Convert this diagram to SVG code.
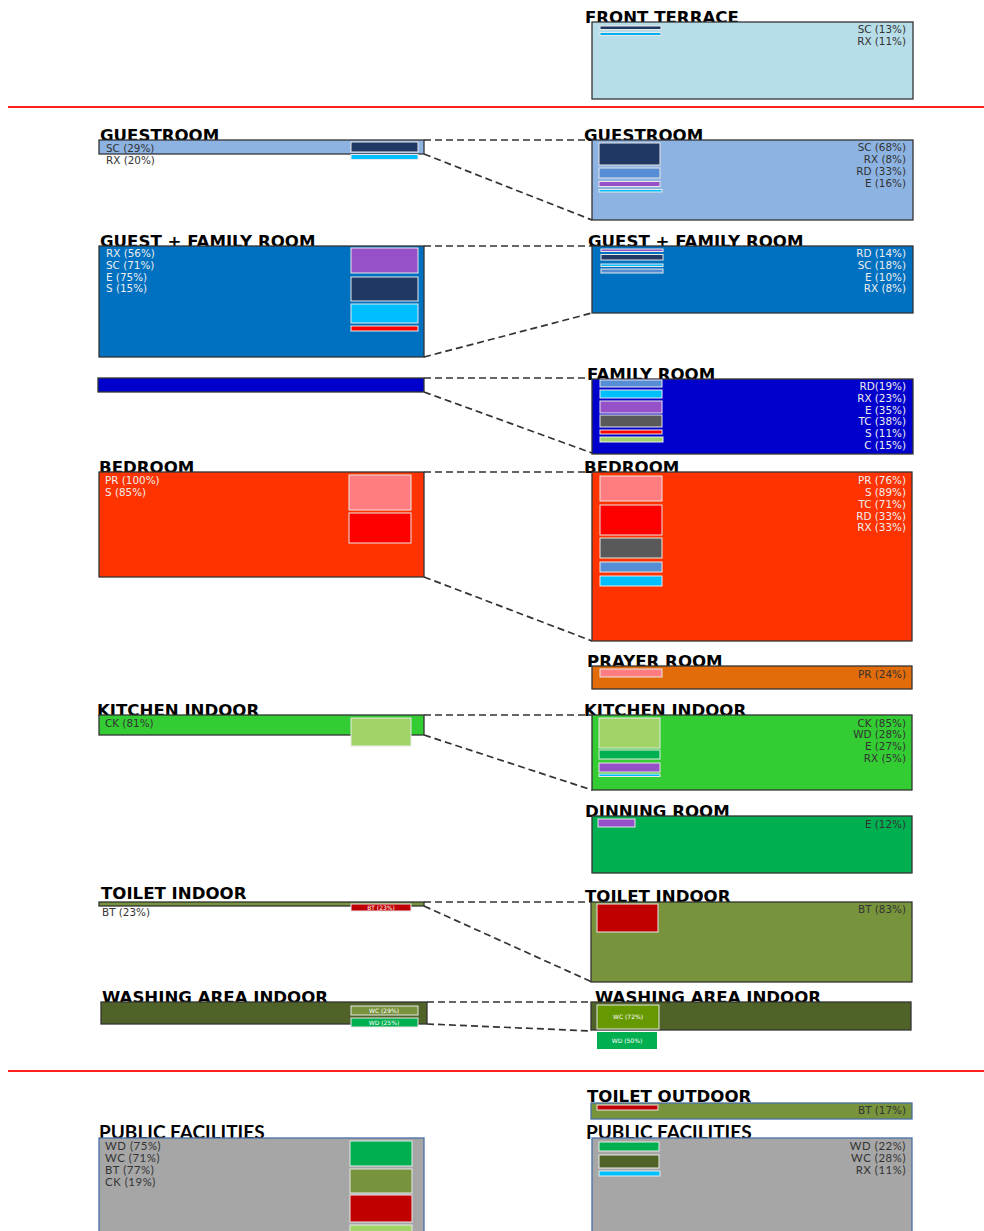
<svg xmlns="http://www.w3.org/2000/svg" width="984" height="1231" viewBox="0 0 984 1231">
<style>
.t{font-family:"DejaVu Sans",sans-serif;font-weight:bold;font-size:16.6px;fill:#000}
.tc{font-family:Lato,"Liberation Sans",sans-serif;font-weight:bold;font-size:19px;fill:#000}
.l{font-family:"DejaVu Sans",sans-serif;font-size:10.4px;fill:#333}
.lc{font-family:Lato,"Liberation Sans",sans-serif;font-size:11.3px;letter-spacing:0.6px;fill:#333}
.w{fill:#eee}
.r{text-anchor:end}
.tiny{font-family:"DejaVu Sans",sans-serif;font-size:6px;fill:#fff;text-anchor:middle}
.box{stroke:#333;stroke-width:1.3}
.bb{stroke:#4a6fa5;stroke-width:1.3}
.bar{stroke:#e8e8e8;stroke-width:1}
.sep{stroke:#ff2020;stroke-width:2}
.con{fill:none;stroke:#333;stroke-width:1.7;stroke-dasharray:7 4}
</style>
<line class="sep" x1="8" y1="107" x2="984" y2="107"/>
<line class="sep" x1="8" y1="1071" x2="984" y2="1071"/>
<g id="connectors">
<path class="con" d="M424 140H592M424 154L592 220"/>
<path class="con" d="M424 246H592M424 357L592 313"/>
<path class="con" d="M424 378H592M424 392L592 453"/>
<path class="con" d="M424 472H592M424 577L592 641"/>
<path class="con" d="M424 715H592M424 735L592 790"/>
<path class="con" d="M424 902H592M424 906L592 982"/>
<path class="con" d="M427 1002H592M427 1024L592 1031"/>
</g>
<g id="front-terrace">
<text class="t" x="585" y="23">FRONT TERRACE</text>
<rect class="box" x="592" y="22" width="321" height="77" fill="#b7dde8"/>
<rect class="bar" x="600" y="26" width="61" height="3.5" fill="#1f3864"/>
<rect class="bar" x="600" y="32.5" width="61" height="3" fill="#00b0f0"/>
<text class="l r" x="906" y="33">SC (13%)</text>
<text class="l r" x="906" y="45">RX (11%)</text>
</g>
<g id="guestroom-left">
<text class="t" x="100" y="141">GUESTROOM</text>
<rect class="box" x="99" y="140" width="325" height="14" fill="#8db3e2"/>
<rect class="bar" x="351" y="142" width="67" height="10" fill="#1f3864"/>
<rect class="bar" x="351" y="154.5" width="67" height="5" fill="#00bfff"/>
<text class="l" x="106" y="152">SC (29%)</text>
<text class="l" x="106" y="164">RX (20%)</text>
</g>
<g id="guestroom-right">
<text class="t" x="584" y="141">GUESTROOM</text>
<rect class="box" x="592" y="140" width="321" height="80" fill="#8db3e2"/>
<rect class="bar" x="599" y="143" width="61" height="22" fill="#1f3864"/>
<rect class="bar" x="599" y="168" width="61" height="10" fill="#558ed5"/>
<rect class="bar" x="599" y="181.5" width="61" height="5" fill="#9650c8"/>
<rect class="bar" x="599" y="189.5" width="63" height="2.5" fill="#00bfff"/>
<text class="l r" x="906" y="151">SC (68%)</text>
<text class="l r" x="906" y="163">RX (8%)</text>
<text class="l r" x="906" y="175">RD (33%)</text>
<text class="l r" x="906" y="187">E (16%)</text>
</g>
<g id="guest-family-left">
<text class="t" x="100" y="247">GUEST + FAMILY ROOM</text>
<rect class="box" x="99" y="246" width="325" height="111" fill="#0070c0"/>
<rect class="bar" x="351" y="248" width="67" height="25" fill="#9650c8"/>
<rect class="bar" x="351" y="277" width="67" height="24" fill="#1f3864"/>
<rect class="bar" x="351" y="304" width="67" height="19" fill="#00bfff"/>
<rect class="bar" x="351" y="326" width="67" height="5" fill="#ff0000"/>
<text class="l w" x="106" y="257">RX (56%)</text>
<text class="l w" x="106" y="269">SC (71%)</text>
<text class="l w" x="106" y="281">E (75%)</text>
<text class="l w" x="106" y="292">S (15%)</text>
</g>
<g id="guest-family-right">
<text class="t" x="588" y="247">GUEST + FAMILY ROOM</text>
<rect class="box" x="592" y="246" width="321" height="67" fill="#0070c0"/>
<rect class="bar" x="601" y="249" width="62" height="2.5" fill="#9650c8"/>
<rect class="bar" x="601" y="254.5" width="62" height="5.5" fill="#1f3864"/>
<rect class="bar" x="601" y="264" width="62" height="2.5" fill="#00bfff"/>
<rect class="bar" x="601" y="269" width="62" height="4" fill="#558ed5"/>
<text class="l w r" x="906" y="257">RD (14%)</text>
<text class="l w r" x="906" y="269">SC (18%)</text>
<text class="l w r" x="906" y="281">E (10%)</text>
<text class="l w r" x="906" y="292">RX (8%)</text>
</g>
<g id="family-left">
<rect class="box" x="98" y="378" width="326" height="14" fill="#0000cc"/>
</g>
<g id="family-right">
<text class="t" x="587" y="380">FAMILY ROOM</text>
<rect class="box" x="592" y="379" width="321" height="75" fill="#0000cc"/>
<rect class="bar" x="600" y="380" width="62" height="7" fill="#558ed5"/>
<rect class="bar" x="600" y="390" width="62" height="8" fill="#00bfff"/>
<rect class="bar" x="600" y="401" width="62" height="12" fill="#9650c8"/>
<rect class="bar" x="600" y="415" width="62" height="12" fill="#595959"/>
<rect class="bar" x="600" y="430" width="62" height="4" fill="#ff0000"/>
<rect class="bar" x="600" y="437" width="63" height="5" fill="#a0d468"/>
<text class="l w r" x="906" y="390">RD(19%)</text>
<text class="l w r" x="906" y="402">RX (23%)</text>
<text class="l w r" x="906" y="414">E (35%)</text>
<text class="l w r" x="906" y="425">TC (38%)</text>
<text class="l w r" x="906" y="437">S (11%)</text>
<text class="l w r" x="906" y="449">C (15%)</text>
</g>
<g id="bedroom-left">
<text class="t" x="99" y="473">BEDROOM</text>
<rect class="box" x="99" y="472" width="325" height="105" fill="#ff3300"/>
<rect class="bar" x="349" y="475" width="62" height="35" fill="#ff7c80"/>
<rect class="bar" x="349" y="513" width="62" height="30" fill="#ff0000"/>
<text class="l w" x="105" y="484">PR (100%)</text>
<text class="l w" x="105" y="496">S (85%)</text>
</g>
<g id="bedroom-right">
<text class="t" x="584" y="473">BEDROOM</text>
<rect class="box" x="592" y="472" width="320" height="169" fill="#ff3300"/>
<rect class="bar" x="600" y="476" width="62" height="25" fill="#ff7c80"/>
<rect class="bar" x="600" y="505" width="62" height="30" fill="#ff0000"/>
<rect class="bar" x="600" y="538" width="62" height="20" fill="#595959"/>
<rect class="bar" x="600" y="562" width="62" height="10" fill="#558ed5"/>
<rect class="bar" x="600" y="576" width="62" height="10" fill="#00bfff"/>
<text class="l w r" x="906" y="484">PR (76%)</text>
<text class="l w r" x="906" y="496">S (89%)</text>
<text class="l w r" x="906" y="508">TC (71%)</text>
<text class="l w r" x="906" y="520">RD (33%)</text>
<text class="l w r" x="906" y="531">RX (33%)</text>
</g>
<g id="prayer-room">
<text class="t" x="587" y="667">PRAYER ROOM</text>
<rect class="box" x="592" y="666" width="320" height="23" fill="#e26b0a"/>
<rect class="bar" x="600" y="669" width="62" height="8" fill="#ff7c80"/>
<text class="l r" x="906" y="678">PR (24%)</text>
</g>
<g id="kitchen-left">
<text class="t" x="97" y="716">KITCHEN INDOOR</text>
<rect class="box" x="99" y="715" width="325" height="20" fill="#33cc33"/>
<rect class="bar" x="351" y="718" width="60" height="28" fill="#a0d468"/>
<text class="l" x="105" y="727">CK (81%)</text>
</g>
<g id="kitchen-right">
<text class="t" x="584" y="716">KITCHEN INDOOR</text>
<rect class="box" x="592" y="715" width="320" height="75" fill="#33cc33"/>
<rect class="bar" x="599" y="718" width="61" height="30" fill="#a0d468"/>
<rect class="bar" x="599" y="750" width="61" height="9" fill="#00b050"/>
<rect class="bar" x="599" y="763" width="61" height="9" fill="#9650c8"/>
<rect class="bar" x="599" y="774" width="61" height="2.5" fill="#00bfff"/>
<text class="l r" x="906" y="727">CK (85%)</text>
<text class="l r" x="906" y="738">WD (28%)</text>
<text class="l r" x="906" y="750">E (27%)</text>
<text class="l r" x="906" y="762">RX (5%)</text>
</g>
<g id="dining-room">
<text class="t" x="585" y="817">DINNING ROOM</text>
<rect class="box" x="592" y="816" width="320" height="57" fill="#00b050"/>
<rect class="bar" x="598" y="819" width="37" height="8" fill="#9650c8"/>
<text class="l r" x="906" y="828">E (12%)</text>
</g>
<g id="toilet-left">
<text class="t" x="101" y="899">TOILET INDOOR</text>
<rect class="box" x="99" y="902" width="325" height="4" fill="#77933c"/>
<rect class="bar" x="351" y="904" width="60" height="7" fill="#c00000"/>
<text class="tiny" x="381" y="910">BT (23%)</text>
<text class="l" x="102" y="916">BT (23%)</text>
</g>
<g id="toilet-right">
<text class="t" x="585" y="902">TOILET INDOOR</text>
<rect class="box" x="591" y="902" width="321" height="80" fill="#77933c"/>
<rect class="bar" x="597" y="904" width="61" height="28" fill="#c00000"/>
<text class="l r" x="906" y="913">BT (83%)</text>
</g>
<g id="washing-left">
<text class="t" x="102" y="1003">WASHING AREA INDOOR</text>
<rect class="box" x="101" y="1002" width="326" height="22" fill="#4f6228"/>
<rect class="bar" x="351" y="1006" width="67" height="9" fill="#77933c"/>
<text class="tiny" x="384" y="1013">WC (29%)</text>
<rect class="bar" x="351" y="1018" width="67" height="9" fill="#00b050"/>
<text class="tiny" x="384" y="1025">WD (25%)</text>
</g>
<g id="washing-right">
<text class="t" x="595" y="1003">WASHING AREA INDOOR</text>
<rect class="box" x="591" y="1002" width="320" height="28" fill="#4f6228"/>
<rect class="bar" x="597" y="1005" width="62" height="24" fill="#669900"/>
<text class="tiny" x="628" y="1019">WC (72%)</text>
<rect x="597" y="1032" width="60" height="17" fill="#00b050"/>
<text class="tiny" x="627" y="1043">WD (50%)</text>
</g>
<g id="toilet-outdoor">
<text class="t" x="587" y="1102">TOILET OUTDOOR</text>
<rect class="bb" x="591" y="1103" width="321" height="16" fill="#77933c"/>
<rect class="bar" x="597" y="1105" width="61" height="5" fill="#c00000"/>
<text class="l r" x="906" y="1114">BT (17%)</text>
</g>
<g id="public-left">
<text class="tc" x="99" y="1139">PUBLIC FACILITIES</text>
<rect class="bb" x="99" y="1138" width="325" height="100" fill="#a6a6a6"/>
<rect class="bar" x="350" y="1141" width="62" height="25" fill="#00b050"/>
<rect class="bar" x="350" y="1169" width="62" height="24" fill="#77933c"/>
<rect class="bar" x="350" y="1195" width="62" height="27" fill="#c00000"/>
<rect class="bar" x="350" y="1225" width="62" height="10" fill="#a0d468"/>
<text class="lc" x="105" y="1150">WD (75%)</text>
<text class="lc" x="105" y="1162">WC (71%)</text>
<text class="lc" x="105" y="1174">BT (77%)</text>
<text class="lc" x="105" y="1186">CK (19%)</text>
</g>
<g id="public-right">
<text class="tc" x="586" y="1139">PUBLIC FACILITIES</text>
<rect class="bb" x="592" y="1138" width="320" height="100" fill="#a6a6a6"/>
<rect class="bar" x="599" y="1142" width="60" height="9" fill="#00b050"/>
<rect class="bar" x="599" y="1155" width="60" height="13" fill="#4f6228"/>
<rect class="bar" x="599" y="1171" width="61" height="5" fill="#00bfff"/>
<text class="lc r" x="906" y="1150">WD (22%)</text>
<text class="lc r" x="906" y="1162">WC (28%)</text>
<text class="lc r" x="906" y="1174">RX (11%)</text>
</g>
</svg>
